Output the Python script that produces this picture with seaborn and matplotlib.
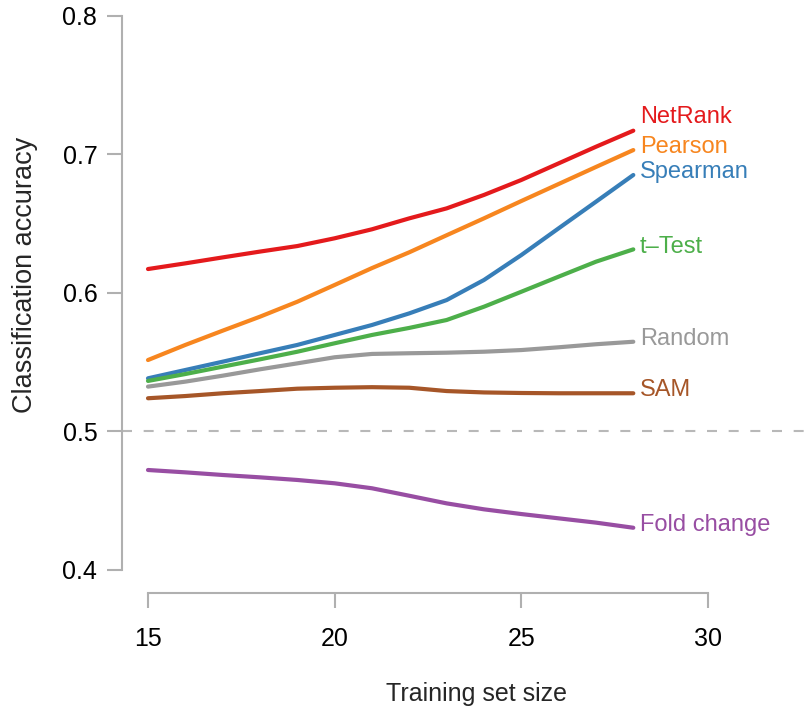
import numpy as np
import pandas as pd
import matplotlib
matplotlib.use("Agg")
import matplotlib.pyplot as plt
import seaborn as sns

# Training set sizes (x) and mean accuracy per method
sizes = [15, 16, 17, 18, 19, 20, 21, 22, 23, 24, 25, 26, 27, 28]
netrank = [0.6173, 0.6214, 0.6257, 0.6299, 0.6339, 0.6395, 0.6460, 0.6539, 0.6611, 0.6708, 0.6816, 0.6936, 0.7056, 0.7172]
pearson = [0.5516, 0.5625, 0.5728, 0.5829, 0.5937, 0.6058, 0.6180, 0.6294, 0.6417, 0.6539, 0.6664, 0.6787, 0.6910, 0.7032]
spearman = [0.5384, 0.5444, 0.5504, 0.5565, 0.5625, 0.5697, 0.5769, 0.5853, 0.5949, 0.6094, 0.6274, 0.6467, 0.6659, 0.6852]
ttest = [0.5365, 0.5415, 0.5468, 0.5521, 0.5576, 0.5637, 0.5697, 0.5748, 0.5805, 0.5901, 0.6009, 0.6118, 0.6226, 0.6315]
random_sel = [0.5324, 0.5360, 0.5403, 0.5449, 0.5492, 0.5536, 0.5560, 0.5565, 0.5569, 0.5576, 0.5588, 0.5608, 0.5630, 0.5648]
sam = [0.5240, 0.5256, 0.5276, 0.5292, 0.5309, 0.5316, 0.5320, 0.5316, 0.5292, 0.5282, 0.5278, 0.5276, 0.5276, 0.5276]
fold_change = [0.4722, 0.4705, 0.4686, 0.4669, 0.4650, 0.4626, 0.4590, 0.4536, 0.4481, 0.4438, 0.4404, 0.4373, 0.4342, 0.4305]

methods = ["NetRank", "Pearson", "Spearman", "t\u2013Test", "Random", "SAM", "Fold change"]
series = [netrank, pearson, spearman, ttest, random_sel, sam, fold_change]
colors = ["#e41a1c", "#f7861f", "#377eb8", "#4daf4a", "#999999", "#a65628", "#984ea3"]

df = pd.DataFrame({
    "size": sizes * len(methods),
    "accuracy": np.concatenate(series),
    "method": np.repeat(methods, len(sizes)),
})

sns.set_style("white")
plt.rcParams["font.family"] = ["Liberation Sans", "DejaVu Sans"]

fig = plt.figure(figsize=(8.07, 7.14), dpi=100)
ax = fig.add_axes([122 / 807, 121 / 714, 685 / 807, 583 / 714])

axis_grey = "#b0b0b0"
ax.axhline(0.5, color="#b8b8b8", lw=1.5, ls=(0, (4.8, 5.6)), zorder=1)

sns.lineplot(data=df, x="size", y="accuracy", hue="method",
             palette=dict(zip(methods, colors)), linewidth=3,
             legend=False, ax=ax, zorder=3)

# labels at the line ends (NetRank nudged up to clear Pearson)
nudge = {"NetRank": 0.0077}
for name, vals, col in zip(methods, series, colors):
    ax.text(sizes[-1] + 0.17, vals[-1] + 0.002 + nudge.get(name, 0), name,
            color=col, fontsize=17, va="center", ha="left")

ax.set_xlim(14.3035, 32.653)
ax.set_ylim(0.38339, 0.80433)
ax.set_xticks([15, 20, 25, 30])
ax.set_yticks([0.4, 0.5, 0.6, 0.7, 0.8])
ax.set_yticklabels(["0.4", "0.5", "0.6", "0.7", "0.8"])

for s in ["top", "right"]:
    ax.spines[s].set_visible(False)
ax.spines["left"].set_bounds(0.4, 0.8)
ax.spines["bottom"].set_bounds(15, 30)
for s in ["left", "bottom"]:
    ax.spines[s].set_color(axis_grey)
    ax.spines[s].set_linewidth(1.5)

ax.tick_params(axis="both", bottom=True, left=True, length=10.8, width=1.5,
               color=axis_grey, labelsize=18, labelcolor="black", direction="out")
ax.tick_params(axis="y", pad=7)
ax.tick_params(axis="x", pad=14)

ax.set_xlabel("Training set size", fontsize=18)
ax.set_ylabel("Classification accuracy", fontsize=19.5)
ax.xaxis.set_label_coords(0.518, -0.1527)
ax.yaxis.set_label_coords(-0.1226, 0.5454)

fig.savefig("out.png", dpi=100)
